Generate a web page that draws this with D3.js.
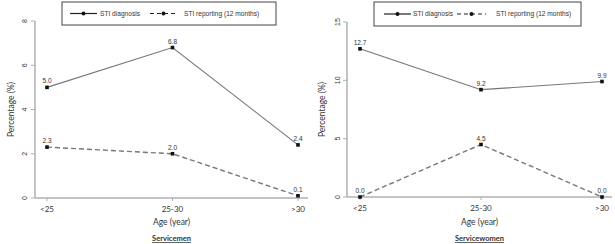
<!DOCTYPE html>
<html><head><meta charset="utf-8">
<script src="https://cdn.jsdelivr.net/npm/d3@7"></script>
<style>body{margin:0;background:#fff}</style>
</head><body>
<svg id="c" width="615" height="244"></svg>
<script>
const categories = ["<25", "25-30", ">30"];
const menDiagnosis = [5.0, 6.8, 2.4];
const menReporting = [2.3, 2.0, 0.1];
const womenDiagnosis = [12.7, 9.2, 9.9];
const womenReporting = [0.0, 4.5, 0.0];
const menTicks = [0, 2, 4, 6, 8];
const womenTicks = [0, 5, 10, 15];
const legendLabels = ["STI diagnosis", "STI reporting (12 months)"];
const panelTitles = ["Servicemen", "Servicewomen"];
const xTitle = "Age (year)";
const yTitle = "Percentage (%)";

const svg = d3.select("#c");
const axisColor = "#b0b0b0", lineColor = "#777", textColor = "#333";
const sans = "Liberation Sans, Arial, sans-serif";
const cal = "Lato, Open Sans, sans-serif";

const panels = [
  {title: panelTitles[0], diag: menDiagnosis, rep: menReporting, ticks: menTicks, ymax: 8,
   ax: 35, axEnd: 308, xr: [47, 298], yr: [198, 21], legend: [62, 2, 214, 23], ylabX: 11, tickLabX: 25,
   l: {s1: 8, s2: 35, t1: 38, d1: 88, d2: 115, t2: 122}},
  {title: panelTitles[1], diag: womenDiagnosis, rep: womenReporting, ticks: womenTicks, ymax: 15,
   ax: 347, axEnd: 612, xr: [360, 602], yr: [197, 22], legend: [374, 2, 207, 24], ylabX: 322, tickLabX: 338,
   l: {s1: 10, s2: 37, t1: 39, d1: 83, d2: 112, t2: 122}}
];

panels.forEach(p => {
  const g = svg.append("g");
  const x = d3.scalePoint().domain(categories).range(p.xr);
  const y = d3.scaleLinear().domain([0, p.ymax]).range(p.yr);

  g.append("line").attr("x1", p.ax).attr("x2", p.ax).attr("y1", y(0)).attr("y2", y(p.ymax))
    .attr("stroke", axisColor).attr("stroke-width", 1.5);
  g.append("line").attr("x1", p.ax).attr("x2", p.axEnd).attr("y1", y(0)).attr("y2", y(0))
    .attr("stroke", axisColor).attr("stroke-width", 1.5);
  p.ticks.forEach(t => {
    g.append("line").attr("x1", p.ax - 4).attr("x2", p.ax).attr("y1", y(t)).attr("y2", y(t))
      .attr("stroke", axisColor).attr("stroke-width", 1);
    g.append("text").attr("transform", `translate(${p.tickLabX},${y(t)}) rotate(-90)`)
      .attr("text-anchor", "middle").attr("dy", "0.35em")
      .attr("font-family", sans).attr("font-size", 7).attr("fill", textColor).text(t);
  });
  categories.forEach(c => {
    g.append("line").attr("x1", x(c)).attr("x2", x(c)).attr("y1", y(0)).attr("y2", y(0) + 3)
      .attr("stroke", axisColor).attr("stroke-width", 1);
    g.append("text").attr("x", x(c)).attr("y", y(0) + 14).attr("text-anchor", "middle")
      .attr("font-family", cal).attr("font-size", 8).attr("fill", textColor).text(c);
  });
  g.append("text").attr("x", (p.ax + p.axEnd) / 2).attr("y", 225).attr("text-anchor", "middle")
    .attr("font-family", cal).attr("font-size", 8.5).attr("fill", textColor).text(xTitle);
  g.append("text").attr("transform", `translate(${p.ylabX},${(y(0) + y(p.ymax)) / 2}) rotate(-90)`)
    .attr("text-anchor", "middle").attr("dy", "0.35em")
    .attr("font-family", cal).attr("font-size", 8.5).attr("fill", textColor).text(yTitle);
  g.append("text").attr("x", (p.ax + p.axEnd) / 2).attr("y", 241).attr("text-anchor", "middle")
    .attr("font-family", cal).attr("font-size", 7.5).attr("font-weight", "bold")
    .attr("text-decoration", "underline").attr("fill", textColor).text(p.title);

  const line = d3.line().x((d, i) => x(categories[i])).y(d => y(d));
  [[p.diag, null], [p.rep, "5,3"]].forEach(([vals, dash]) => {
    g.append("path").datum(vals).attr("d", line).attr("fill", "none")
      .attr("stroke", lineColor).attr("stroke-width", dash ? 1.4 : 1.1)
      .attr("stroke-dasharray", dash);
    vals.forEach((v, i) => {
      g.append("rect").attr("x", x(categories[i]) - 1.8).attr("y", y(v) - 1.8)
        .attr("width", 3.6).attr("height", 3.6).attr("fill", "#111");
      g.append("text").attr("x", x(categories[i])).attr("y", y(v) - 4).attr("text-anchor", "middle")
        .attr("font-family", sans).attr("font-size", 6.5).attr("fill", textColor).text(v.toFixed(1));
    });
  });

  const [lx, ly, lw, lh] = p.legend;
  const L = p.l;
  const lg = g.append("g");
  lg.append("rect").attr("x", lx).attr("y", ly).attr("width", lw).attr("height", lh)
    .attr("fill", "#fff").attr("stroke", "#444").attr("stroke-width", 1);
  const cy = ly + lh / 2;
  lg.append("line").attr("x1", lx + L.s1).attr("x2", lx + L.s2).attr("y1", cy).attr("y2", cy)
    .attr("stroke", "#222").attr("stroke-width", 1.2);
  lg.append("circle").attr("cx", lx + (L.s1 + L.s2) / 2).attr("cy", cy).attr("r", 2).attr("fill", "#111");
  lg.append("text").attr("x", lx + L.t1).attr("y", cy).attr("dy", "0.35em")
    .attr("font-family", sans).attr("font-size", 6.6).attr("fill", textColor).text(legendLabels[0]);
  lg.append("line").attr("x1", lx + L.d1).attr("x2", lx + L.d2).attr("y1", cy).attr("y2", cy)
    .attr("stroke", "#222").attr("stroke-width", 1.2).attr("stroke-dasharray", "4,3");
  lg.append("circle").attr("cx", lx + (L.d1 + L.d2) / 2).attr("cy", cy).attr("r", 2).attr("fill", "#111");
  lg.append("text").attr("x", lx + L.t2).attr("y", cy).attr("dy", "0.35em")
    .attr("font-family", sans).attr("font-size", 6.6).attr("fill", textColor).text(legendLabels[1]);
});
</script>
</body></html>
